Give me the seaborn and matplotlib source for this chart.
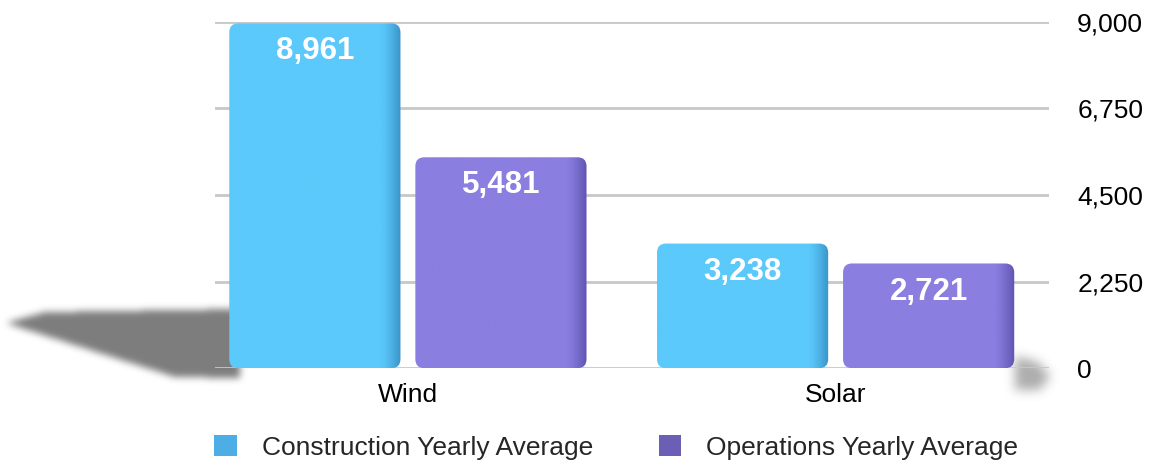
import numpy as np
import pandas as pd
import seaborn as sns
import matplotlib
matplotlib.use("Agg")
import matplotlib.pyplot as plt
from matplotlib.patches import Patch, FancyBboxPatch
from matplotlib.colors import to_rgb
from matplotlib.path import Path

# --- data -------------------------------------------------------------
categories = ["Wind", "Solar"]
series_names = ["Construction Yearly Average", "Operations Yearly Average"]
construction = [8961, 3238]
operations = [5481, 2721]
y_ticks = [0, 2250, 4500, 6750, 9000]
y_tick_labels = [f"{v:,}" for v in y_ticks]

df = pd.DataFrame({
    "Source": categories * 2,
    "Series": [series_names[0]] * len(categories) + [series_names[1]] * len(categories),
    "Jobs": construction + operations,
})

# --- style ------------------------------------------------------------
sns.set_theme(style="white")
plt.rcParams["font.family"] = ["Liberation Sans", "DejaVu Sans"]

W, H, DPI = 1152, 466, 100
fig = plt.figure(figsize=(W / DPI, H / DPI), dpi=DPI)
fig.patch.set_facecolor("white")

bar_colors = ["#5BC9FB", "#8A7EE0"]
side_colors = ["#3A93C8", "#5F55B0"]
legend_colors = ["#4DAEE6", "#6B5FB5"]


def soft_shadow(poly, shape, passes=4, k=9):
    """Blurred mask for a floor shadow polygon (pixel coords, top origin)."""
    h, w = shape
    yy, xx = np.mgrid[0:h, 0:w]
    pts = np.column_stack([xx.ravel() + 0.5, yy.ravel() + 0.5])
    m = Path(poly).contains_points(pts).reshape(h, w).astype(float)
    kern = np.ones(k) / k
    for _ in range(passes):
        m = np.apply_along_axis(lambda r: np.convolve(r, kern, mode="same"), 1, m)
        m = np.apply_along_axis(lambda c: np.convolve(c, kern, mode="same"), 0, m)
    return m


# floor shadows cast by the bars
alpha = np.zeros((H, W))
left = soft_shadow([(6, 323), (45, 312), (240, 309), (240, 378), (175, 377)],
                   (H, 260), passes=3, k=7)
alpha[:, :260] = np.maximum(alpha[:, :260], left * 0.88)
right = soft_shadow([(1015, 356), (1038, 362), (1050, 376), (1040, 390), (1015, 390)],
                    (H, W), passes=4, k=9)
alpha = np.maximum(alpha, right * 0.55)
img = np.zeros((H, W, 4))
img[..., :3] = 0.42
img[..., 3] = np.clip(alpha, 0, 1)
fig.figimage(img, 0, 0, origin="upper", zorder=-1)

# --- axes & bars --------------------------------------------------------
ax = fig.add_axes([0.187, 0.21, 0.724, 0.743])
ax.patch.set_alpha(0)

sns.barplot(
    data=df, x="Source", y="Jobs", hue="Series",
    palette=bar_colors, saturation=1, width=0.87, gap=0.08,
    linewidth=0, legend=False, ax=ax, zorder=3,
)

ax.set_ylim(0, 9000)
ax.set_xlim(-0.45, 1.5)
ax.yaxis.tick_right()
ax.set_yticks(y_ticks)
ax.set_yticklabels(y_tick_labels)
ax.grid(axis="y", color="#c8c8c8", linewidth=2)
ax.grid(axis="x", visible=False)
ax.set_axisbelow(True)
for s in ax.spines.values():
    s.set_visible(False)
ax.tick_params(axis="y", length=0, pad=20, labelsize=19, labelcolor="black")
ax.tick_params(axis="x", length=0, pad=11, labelsize=19, labelcolor="black")
ax.set_xlabel("")
ax.set_ylabel("")

# pixel -> data scale, used for the rounded corners
fig.canvas.draw()
bb = ax.get_window_extent()
x_per_px = (ax.get_xlim()[1] - ax.get_xlim()[0]) / bb.width
y_per_px = (ax.get_ylim()[1] - ax.get_ylim()[0]) / bb.height
radius_px = 9

# rebuild each bar as a rounded box with a shaded right face
for ci, container in enumerate(ax.containers):
    base = np.array(to_rgb(bar_colors[ci]))
    side = np.array(to_rgb(side_colors[ci]))
    n = 200
    t = np.linspace(0, 1, n)
    mix = np.clip((t - 0.88) / 0.12, 0, 1) ** 1.4
    grad = base[None, :] * (1 - mix[:, None]) + side[None, :] * mix[:, None]
    grad = grad[None, :, :]
    for patch in container.patches:
        x0, y0 = patch.get_x(), patch.get_y()
        w, h = patch.get_width(), patch.get_height()
        patch.set_visible(False)
        rounded = FancyBboxPatch(
            (x0, y0), w, h,
            boxstyle=f"round,pad=0,rounding_size={radius_px * x_per_px}",
            mutation_aspect=y_per_px / x_per_px,
            facecolor="none", edgecolor="none", zorder=3,
        )
        ax.add_patch(rounded)
        im = ax.imshow(grad, extent=(x0, x0 + w, y0, y0 + h), aspect="auto",
                       interpolation="bilinear", zorder=3)
        im.set_clip_path(rounded)
    ax.bar_label(container, labels=[f"{v:,.0f}" for v in container.datavalues],
                 padding=-31, color="white", fontweight="bold", fontsize=22.5,
                 zorder=5)

ax.set_xlim(-0.45, 1.5)
ax.set_ylim(0, 9000)

# --- legend -------------------------------------------------------------
handles = [Patch(facecolor=c, edgecolor="none") for c in legend_colors]
fig.legend(handles, series_names, loc="center", bbox_to_anchor=(0.535, 0.04),
           ncol=2, frameon=False, fontsize=19, handlelength=0.85,
           handleheight=0.85, handletextpad=0.95, columnspacing=2.5)

fig.savefig("out.png", dpi=DPI)
